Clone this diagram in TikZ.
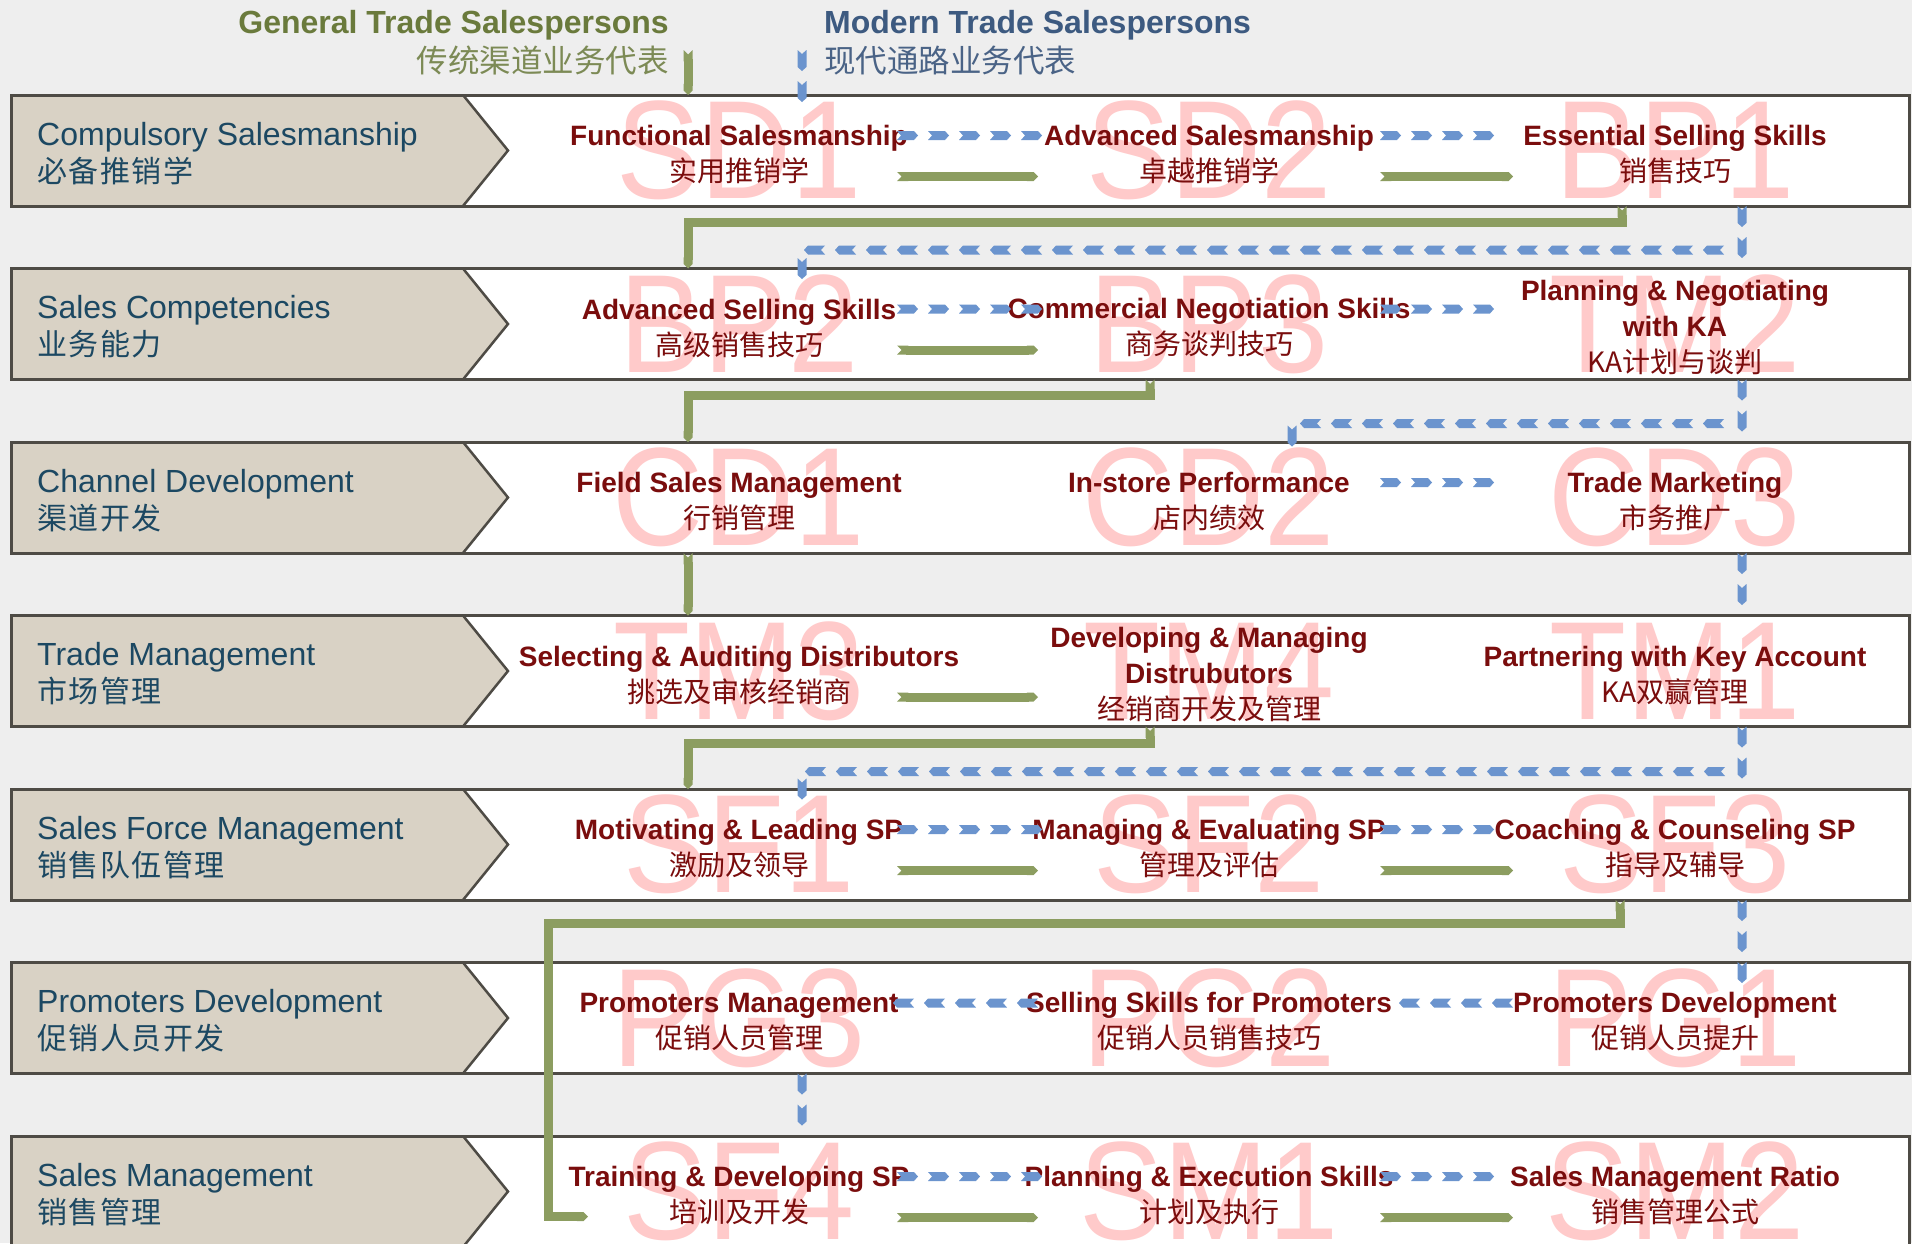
\documentclass[tikz,border=0pt]{standalone}
\usepackage{fontspec}
\setmainfont{Liberation Sans}
\newfontfamily\cjk{Noto Sans CJK SC}
\newfontfamily\cjkwide[LetterSpace=5]{Noto Sans CJK SC}
\usetikzlibrary{arrows.meta,decorations.markings}
\definecolor{bg}{HTML}{EEEEEE}
\definecolor{band}{HTML}{D9D2C5}
\definecolor{edge}{HTML}{4E4B45}
\definecolor{lab}{HTML}{1C4862}
\definecolor{celltxt}{HTML}{7A0D0D}
\definecolor{wm}{HTML}{FFCACA}
\definecolor{gline}{HTML}{8C9D60}
\definecolor{bline}{HTML}{6B94CE}
\definecolor{gtxt}{HTML}{6A7A3C}
\definecolor{gtxtb}{HTML}{7C8A55}
\definecolor{mtxt}{HTML}{3D5A80}
\definecolor{mtxtb}{HTML}{4A6386}
\newcommand\myzh[1]{{\cjk\mdseries #1}}
\newcommand\myzhL[1]{{\cjkwide\fontsize{30}{37}\selectfont #1}}
\begin{document}
\begin{tikzpicture}[x=1pt,y=1pt,
  rowbox/.style={draw=edge,line width=3pt},
  cA/.style={minimum width=316pt,minimum height=111pt,inner sep=0pt,outer sep=0pt},
  cB/.style={minimum width=342pt,minimum height=111pt,inner sep=0pt,outer sep=0pt},
  cC/.style={minimum width=324pt,minimum height=111pt,inner sep=0pt,outer sep=0pt},
  wmark/.style={text=wm,font=\fontsize{140}{140}\selectfont,inner sep=0pt},
  ctext/.style={text=celltxt,font=\fontsize{28}{36}\selectfont\bfseries,align=center,inner sep=0pt,yshift=-4pt},
  ltext/.style={text=lab,font=\fontsize{32}{37}\selectfont,align=left,anchor=west,inner sep=0pt,yshift=-3pt},
  gpath/.style={draw=gline,line width=9pt,{Triangle Cap[reversed]}-{Triangle Cap}},
  bpath/.style={decoration={markings,mark=between positions 10pt and -4pt step 31pt with {\fill[bline] (-10pt,-4.5pt) -- (7pt,-4.5pt) -- (11pt,0pt) -- (7pt,4.5pt) -- (-10pt,4.5pt) -- (-6pt,0pt) -- cycle;}},decorate}
]
\useasboundingbox (0,0) rectangle (1912,-1243);
\fill[bg] (0,0) rectangle (1912,-1243);
\clip (0,0) rectangle (1912,-1243);

% rows
\foreach \i in {0,...,6}{
  \pgfmathsetmacro{\t}{-95-173.5*\i}
  \pgfmathsetmacro{\b}{\t-111}
  \pgfmathsetmacro{\m}{\t-55.5}
  \fill[white] (11,\t) rectangle (1909,\b);
  \fill[band] (11,\t) -- (463,\t) -- (508,\m) -- (463,\b) -- (11,\b) -- cycle;
  \draw[edge,line width=2.5pt] (463,\t) -- (508,\m) -- (463,\b);
  \draw[rowbox] (11,\t) rectangle (1909,\b);
}

% headers
\node[anchor=base east,inner sep=0pt,text=gtxt,font=\fontsize{32}{32}\selectfont\bfseries] (gh) at (669,-33) {General Trade Salespersons};
\node[anchor=base east,inner sep=0pt,text=gtxtb,font=\fontsize{31.5}{32}\selectfont] (gz) at (669,-72) {\cjk 传统渠道业务代表};
\node[anchor=base west,inner sep=0pt,text=mtxt,font=\fontsize{32}{32}\selectfont\bfseries] (mh) at (824,-33) {Modern Trade Salespersons};
\node[anchor=base west,inner sep=0pt,text=mtxtb,font=\fontsize{31.5}{32}\selectfont] (mz) at (824,-72) {\cjk 现代通路业务代表};
\coordinate (gtop) at (688,-50);
\coordinate (btop) at (802,-50);

% left labels
\node[ltext] (L1) at (37,-150.5) {Compulsory Salesmanship\\\myzhL{必备推销学}};
\node[ltext] (L2) at (37,-324) {Sales Competencies\\\myzhL{业务能力}};
\node[ltext] (L3) at (37,-497.5) {Channel Development\\\myzhL{渠道开发}};
\node[ltext] (L4) at (37,-671) {Trade Management\\\myzhL{市场管理}};
\node[ltext] (L5) at (37,-844.5) {Sales Force Management\\\myzhL{销售队伍管理}};
\node[ltext] (L6) at (37,-1018) {Promoters Development\\\myzhL{促销人员开发}};
\node[ltext] (L7) at (37,-1191.5) {Sales Management\\\myzhL{销售管理}};

% cell frames
\node[cA] (SD1) at (739,-150.5) {};
\node[cB] (SD2) at (1209,-150.5) {};
\node[cC] (BP1) at (1675,-150.5) {};
\node[cA] (BP2) at (739,-324) {};
\node[cB] (BP3) at (1209,-324) {};
\node[cC] (TM2) at (1675,-324) {};
\node[cA] (CD1) at (739,-497.5) {};
\node[cB] (CD2) at (1209,-497.5) {};
\node[cC] (CD3) at (1675,-497.5) {};
\node[cA] (TM3) at (739,-671) {};
\node[cB] (TM4) at (1209,-671) {};
\node[cC] (TM1) at (1675,-671) {};
\node[cA] (SF1) at (739,-844.5) {};
\node[cB] (SF2) at (1209,-844.5) {};
\node[cC] (SF3) at (1675,-844.5) {};
\node[cA] (PG3) at (739,-1018) {};
\node[cB] (PG2) at (1209,-1018) {};
\node[cC] (PG1) at (1675,-1018) {};
\node[cA] (SF4) at (739,-1191.5) {};
\node[cB] (SM1) at (1209,-1191.5) {};
\node[cC] (SM2) at (1675,-1191.5) {};

% watermarks
\foreach \n in {SD1,SD2,BP1,BP2,BP3,TM2,CD1,CD2,CD3,TM3,TM4,TM1,SF1,SF2,SF3,PG3,PG2,PG1,SF4,SM1,SM2}{
  \node[wmark] (\n w) at (\n) {\scalebox{0.9}[1]{\n}};
}

% cell texts
\node[ctext] (SD1t) at (SD1) {Functional Salesmanship\\\myzh{实用推销学}};
\node[ctext] (SD2t) at (SD2) {Advanced Salesmanship\\\myzh{卓越推销学}};
\node[ctext] (BP1t) at (BP1) {Essential Selling Skills\\\myzh{销售技巧}};
\node[ctext] (BP2t) at (BP2) {Advanced Selling Skills\\\myzh{高级销售技巧}};
\node[ctext] (BP3t) at (BP3) {Commercial Negotiation Skills\\\myzh{商务谈判技巧}};
\node[ctext] (TM2t) at (TM2) {Planning \& Negotiating\\with KA\\\myzh{KA计划与谈判}};
\node[ctext] (CD1t) at (CD1) {Field Sales Management\\\myzh{行销管理}};
\node[ctext] (CD2t) at (CD2) {In-store Performance\\\myzh{店内绩效}};
\node[ctext] (CD3t) at (CD3) {Trade Marketing\\\myzh{市务推广}};
\node[ctext] (TM3t) at (TM3) {Selecting \& Auditing Distributors\\\myzh{挑选及审核经销商}};
\node[ctext] (TM4t) at (TM4) {Developing \& Managing\\Distrubutors\\\myzh{经销商开发及管理}};
\node[ctext] (TM1t) at (TM1) {Partnering with Key Account\\\myzh{KA双赢管理}};
\node[ctext] (SF1t) at (SF1) {Motivating \& Leading SP\\\myzh{激励及领导}};
\node[ctext] (SF2t) at (SF2) {Managing \& Evaluating SP\\\myzh{管理及评估}};
\node[ctext] (SF3t) at (SF3) {Coaching \& Counseling SP\\\myzh{指导及辅导}};
\node[ctext] (PG3t) at (PG3) {Promoters Management\\\myzh{促销人员管理}};
\node[ctext] (PG2t) at (PG2) {Selling Skills for Promoters\\\myzh{促销人员销售技巧}};
\node[ctext] (PG1t) at (PG1) {Promoters Development\\\myzh{促销人员提升}};
\node[ctext] (SF4t) at (SF4) {Training \& Developing SP\\\myzh{培训及开发}};
\node[ctext] (SM1t) at (SM1) {Planning \& Execution Skills\\\myzh{计划及执行}};
\node[ctext] (SM2t) at (SM2) {Sales Management Ratio\\\myzh{销售管理公式}};

% ---------- connectors ----------
% header lanes
\draw[gpath] (gtop) -- ([xshift=-51pt]SD1.north);
\path[bpath] (btop) -- ([xshift=63pt,yshift=-6pt]SD1.north);

% row 1
\draw[gpath] ([yshift=-26pt]SD1.east) -- ([yshift=-26pt]SD2.west);
\draw[gpath] ([yshift=-26pt]SD2.east) -- ([yshift=-26pt]BP1.west);
\path[bpath] ([yshift=15pt]SD1.east) -- ([yshift=15pt]SD2.west);
\path[bpath] ([yshift=15pt]SD2.east) -- ([yshift=15pt]BP1.west);

% row 1 -> row 2
\draw[gpath] ([xshift=-53pt]BP1.south) -- ++(0,-16) -| ([xshift=-51pt]BP2.north);
\path[bpath] ([xshift=67pt]BP1.south) -- ++(0,-44) -| ([xshift=63pt,yshift=-6pt]BP2.north);

% row 2
\path[bpath] ([yshift=15pt]BP2.east) -- ([yshift=15pt]BP3.west);
\path[bpath] ([yshift=15pt]BP3.east) -- ([yshift=15pt]TM2.west);
\draw[gpath] ([yshift=-26pt]BP2.east) -- ([yshift=-26pt]BP3.west);

% row 2 -> row 3
\draw[gpath] ([xshift=-59pt]BP3.south) -- ++(0,-16) -| ([xshift=-51pt]CD1.north);
\path[bpath] ([xshift=67pt]TM2.south) -- ++(0,-44) -| ([xshift=83pt,yshift=-6pt]CD2.north);

% row 3
\path[bpath] ([yshift=15pt]CD2.east) -- ([yshift=15pt]CD3.west);

% row 3 -> row 4
\draw[gpath] ([xshift=-51pt]CD1.south) -- ([xshift=-51pt]TM3.north);
\path[bpath] ([xshift=67pt]CD3.south) -- ([xshift=67pt,yshift=-8pt]TM1.north);

% row 4
\draw[gpath] ([yshift=-26pt]TM3.east) -- ([yshift=-26pt]TM4.west);

% row 4 -> row 5
\draw[gpath] ([xshift=-59pt]TM4.south) -- ++(0,-17) -| ([xshift=-51pt]SF1.north);
\path[bpath] ([xshift=67pt]TM1.south) -- ++(0,-45) -| ([xshift=63pt,yshift=-6pt]SF1.north);

% row 5
\path[bpath] ([yshift=15pt]SF1.east) -- ([yshift=15pt]SF2.west);
\path[bpath] ([yshift=15pt]SF2.east) -- ([yshift=15pt]SF3.west);
\draw[gpath] ([yshift=-26pt]SF1.east) -- ([yshift=-26pt]SF2.west);
\draw[gpath] ([yshift=-26pt]SF2.east) -- ([yshift=-26pt]SF3.west);

% row 5 -> row 6 / row 7
\draw[gpath] ([xshift=-55pt]SF3.south) -- ++(0,-23) -- ++(-1072,0) |- ([xshift=7pt,yshift=-25pt]SF4.west);
\path[bpath] ([xshift=67pt]SF3.south) -- ([xshift=67pt,yshift=-18pt]PG1.north);

% row 6 (right to left)
\path[bpath] ([yshift=15pt]PG1.west) -- ([yshift=15pt]PG2.east);
\path[bpath] ([yshift=15pt]PG2.west) -- ([yshift=15pt]PG3.east);

% row 6 -> row 7
\path[bpath] ([xshift=63pt]PG3.south) -- ([xshift=63pt]SF4.north);

% row 7
\path[bpath] ([yshift=15pt]SF4.east) -- ([yshift=15pt]SM1.west);
\path[bpath] ([yshift=15pt]SM1.east) -- ([yshift=15pt]SM2.west);
\draw[gpath] ([yshift=-26pt]SF4.east) -- ([yshift=-26pt]SM1.west);
\draw[gpath] ([yshift=-26pt]SM1.east) -- ([yshift=-26pt]SM2.west);
\end{tikzpicture}
\end{document}
